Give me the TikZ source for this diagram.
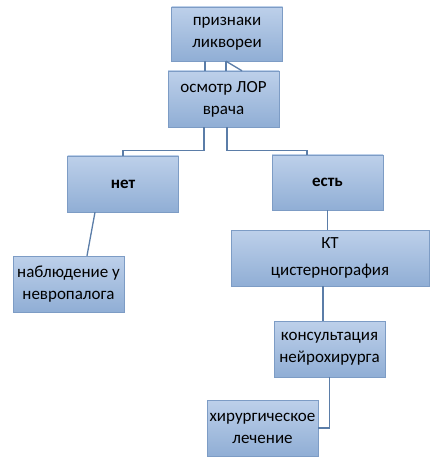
\documentclass[tikz,border=0pt]{standalone}
\usepackage{fontspec}
\setmainfont{Carlito}
\definecolor{boxtop}{HTML}{BDD0EA}
\definecolor{boxbot}{HTML}{90AED5}
\definecolor{boxline}{HTML}{7D9CC5}
\definecolor{link}{HTML}{5B7DA8}

\begin{document}
\begin{tikzpicture}[x=1pt, y=-1pt,
		block/.style={draw=boxline, thin, top color=boxtop, bottom color=boxbot, minimum width=111pt, minimum height=56pt, align=center, inner sep=0pt, font=\fontsize{17}{22}\selectfont},
		link/.style={draw=link, line width=1.3pt},
	]
		\useasboundingbox (0,0) rectangle (444,473);

		\node (signs) [block, minimum height=54pt] at (227,34) {признаки\\ликвореи};
		\node (exam) [block] at (223.5,99) {осмотр ЛОР\\врача};
		\node (no) [block] at (123,184) {\bfseries нет};
		\node (yes) [block, minimum height=55pt] at (327.5,182.5) {\bfseries есть};
		\node (watch) [block] at (68.5,284) {наблюдение у\\невропалога};
		\node (ct) [block, minimum width=198pt, font=\fontsize{17}{27}\selectfont] at (330,258) {КТ\\цистернография};
		\node (consult) [block] at (329.5,349) {консультация\\нейрохирурга};
		\node (surgery) [block] at (262.5,428) {хирургическое\\лечение};

		\draw[link] ([xshift=-22pt]signs.south) -- ([xshift=-22pt]signs.south |- exam.north);
		\draw[link] ([xshift=-1pt]signs.south) -- ([xshift=-1pt]signs.south |- exam.north);
		\draw[link] ([xshift=-1pt]signs.south) -- ([xshift=18.5pt]exam.north);

		\draw[link] ([xshift=-19.5pt]exam.south) -- ++(0,23) -| (no.north);
		\draw[link] ([xshift=3.5pt]exam.south) -- ++(0,23) -| ([xshift=-20.5pt]yes.north);

		\draw[link] ([xshift=-28pt]no.south) -- ([xshift=18.5pt]watch.north);
		\draw[link] (yes.south) -- (yes.south |- ct.north);
		\draw[link] ([xshift=-7pt]ct.south) -- ([xshift=-7pt]ct.south |- consult.north);
		\draw[link] (consult.south) |- (surgery.east);
	\end{tikzpicture}
\end{document}
